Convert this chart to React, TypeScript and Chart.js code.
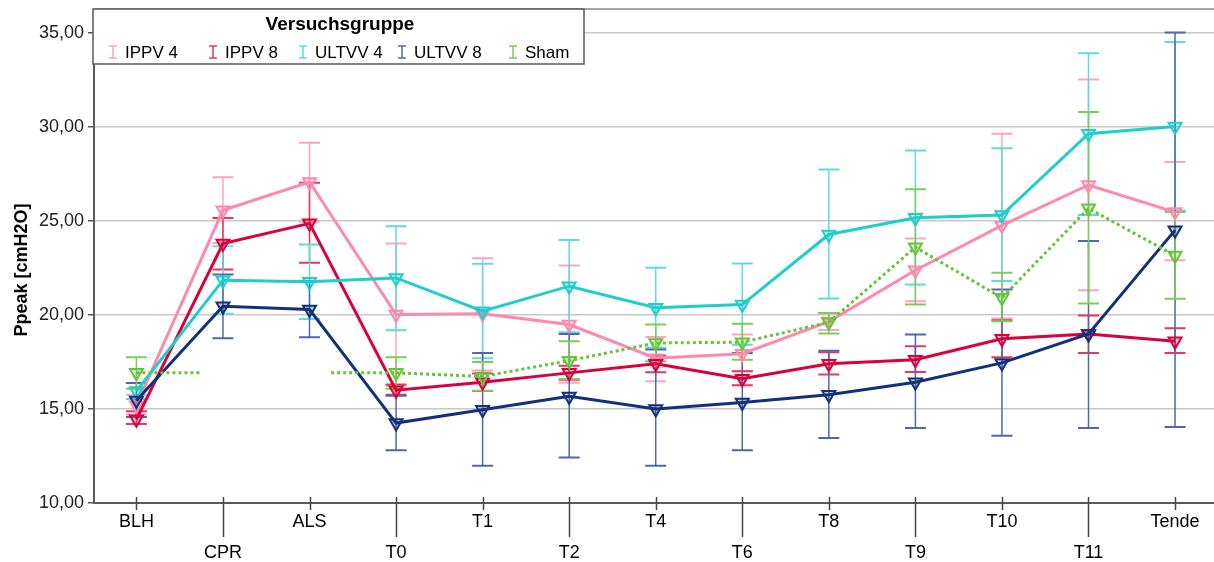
import React, { useEffect, useRef } from "react";
import { Chart, registerables } from "chart.js";

Chart.register(...registerables);

// Time points along the horizontal axis
const categories = ["BLH", "CPR", "ALS", "T0", "T1", "T2", "T4", "T6", "T8", "T9", "T10", "T11", "Tende"];
const yTickValues = [10, 15, 20, 25, 30, 35];

// Group means with lower / upper error-bar limits (Ppeak, cmH2O)
const ippv4Mean = [15.2, 25.57, 27.07, 20.02, 20.06, 19.49, 17.7, 17.94, 19.65, 22.38, 24.76, 26.91, 25.47];
const ippv4Low = [14.7, 23.82, 24.96, 16.24, 17.05, 16.4, 16.47, 17.0, 19.2, 20.73, 19.81, 21.32, 22.91];
const ippv4High = [15.75, 27.32, 29.16, 23.8, 23.02, 22.63, 18.83, 18.96, 20.1, 24.07, 29.64, 32.52, 28.13];

const ippv8Mean = [14.45, 23.8, 24.87, 16.0, 16.42, 16.92, 17.41, 16.61, 17.4, 17.62, 18.73, 18.99, 18.6];
const ippv8Low = [14.2, 22.42, 22.77, 15.75, 15.96, 16.55, 16.95, 16.26, 16.83, 16.97, 17.75, 17.98, 17.98];
const ippv8High = [14.88, 25.15, 27.03, 16.3, 16.88, 17.3, 17.84, 17.0, 18.01, 18.33, 19.72, 19.97, 19.29];

const ultvv4Mean = [15.95, 21.85, 21.76, 21.97, 20.2, 21.53, 20.38, 20.55, 24.28, 25.17, 25.31, 29.64, 30.02];
const ultvv4Low = [15.53, 20.06, 19.79, 19.19, 17.7, 19.08, 18.25, 18.42, 20.87, 21.62, 21.8, 25.31, 25.56];
const ultvv4High = [16.38, 23.66, 23.75, 24.72, 22.72, 23.98, 22.51, 22.74, 27.74, 28.75, 28.86, 33.92, 34.52];

const ultvv8Mean = [15.45, 20.46, 20.29, 14.25, 14.96, 15.67, 15.0, 15.35, 15.76, 16.42, 17.45, 18.99, 24.51];
const ultvv8Low = [14.57, 18.76, 18.81, 12.8, 11.98, 12.42, 11.98, 12.8, 13.46, 13.99, 13.58, 13.99, 14.04];
const ultvv8High = [16.38, 22.15, 21.8, 15.71, 17.98, 18.99, 18.16, 17.98, 18.1, 18.96, 21.35, 23.93, 35.02];

const shamMean = [16.92, null, null, 16.92, 16.73, 17.57, 18.51, 18.55, 19.61, 23.6, 20.91, 25.67, 23.16];
const shamLow = [16.08, null, null, 16.08, 15.97, 16.6, 17.54, 17.62, 19.01, 20.55, 19.66, 20.61, 20.86];
const shamHigh = [17.75, null, null, 17.75, 17.5, 18.6, 19.49, 19.53, 20.11, 26.68, 22.24, 30.79, 25.47];

// Short dotted stubs of the Sham line next to its missing values
const shamStubX = [0, 0.74, 1.5, 2.25, 3];
const shamStubY = [16.92, 16.92, null, 16.92, 16.92];

const seriesNames = ["IPPV 4", "IPPV 8", "ULTVV 4", "ULTVV 8", "Sham"];
const lineColors = ["#FF88AE", "#D9003C", "#1FCDCD", "#15307A", "#66C43A"];
const barColors = ["#FFA3C2", "#E23A62", "#5CDCDC", "#5068A8", "#7ACD58"];
const fillColors = ["rgba(255,136,174,0.25)", "rgba(217,0,60,0.25)", "rgba(31,205,205,0.25)", "rgba(21,48,122,0.25)", "rgba(102,196,58,0.25)"];

const means = [ippv4Mean, ippv8Mean, ultvv4Mean, ultvv8Mean, shamMean];
const lows = [ippv4Low, ippv8Low, ultvv4Low, ultvv8Low, shamLow];
const highs = [ippv4High, ippv8High, ultvv4High, ultvv8High, shamHigh];

const FONT = "'Liberation Sans', Arial, sans-serif";

const toPoints = (vals: (number | null)[]) => vals.map((v, i) => ({ x: i, y: v }));

// Error bars behind the lines
const errorBarPlugin = {
  id: "errorBars",
  beforeDatasetsDraw(chart: any) {
    const { ctx } = chart;
    const xs = chart.scales.x;
    const ys = chart.scales.y;
    ctx.save();
    means.forEach((_, s) => {
      ctx.strokeStyle = barColors[s];
      for (let i = 0; i < categories.length; i++) {
        const lo = lows[s][i];
        const hi = highs[s][i];
        if (lo == null || hi == null) continue;
        const x = xs.getPixelForValue(i);
        const yl = ys.getPixelForValue(lo);
        const yh = ys.getPixelForValue(hi);
        ctx.lineWidth = 1.5;
        ctx.beginPath();
        ctx.moveTo(x, yl);
        ctx.lineTo(x, yh);
        ctx.stroke();
        ctx.lineWidth = 2;
        ctx.beginPath();
        ctx.moveTo(x - 10.5, yl);
        ctx.lineTo(x + 10.5, yl);
        ctx.moveTo(x - 10.5, yh);
        ctx.lineTo(x + 10.5, yh);
        ctx.stroke();
      }
    });
    ctx.restore();
  },
};

// Plot frame, category tick marks, axis title and the legend box
const framePlugin = {
  id: "frame",
  beforeDatasetsDraw(chart: any) {
    const { ctx, chartArea } = chart;
    const xs = chart.scales.x;
    ctx.save();
    ctx.strokeStyle = "#8A8A8A";
    ctx.lineWidth = 1.5;
    ctx.beginPath();
    ctx.moveTo(chartArea.left, chartArea.top);
    ctx.lineTo(chartArea.right, chartArea.top);
    ctx.stroke();
    ctx.strokeStyle = "#5A5A5A";
    ctx.lineWidth = 2;
    ctx.beginPath();
    ctx.moveTo(chartArea.left, chartArea.top);
    ctx.lineTo(chartArea.left, chartArea.bottom);
    ctx.lineTo(chartArea.right, chartArea.bottom);
    ctx.stroke();
    ctx.lineWidth = 1.5;
    ctx.strokeStyle = "#444";
    categories.forEach((_, i) => {
      const x = Math.round(xs.getPixelForValue(i)) + 0.5;
      ctx.beginPath();
      ctx.moveTo(x, chartArea.bottom - 6);
      ctx.lineTo(x, chartArea.bottom + (i % 2 === 0 ? 7 : 34));
      ctx.stroke();
    });
    ctx.restore();
  },
  afterDraw(chart: any) {
    const { ctx, chartArea } = chart;
    ctx.save();
    // y axis title
    ctx.translate(22, 270);
    ctx.rotate(-Math.PI / 2);
    ctx.font = `bold 18px ${FONT}`;
    ctx.fillStyle = "#000";
    ctx.textAlign = "center";
    ctx.textBaseline = "middle";
    ctx.fillText("Ppeak [cmH2O]", 0, 0);
    ctx.restore();

    // legend box
    ctx.save();
    const bx = chartArea.left - 1;
    const by = chartArea.top;
    const bw = 491;
    const bh = 55;
    ctx.fillStyle = "#fff";
    ctx.fillRect(bx, by, bw, bh);
    ctx.strokeStyle = "#5A5A5A";
    ctx.lineWidth = 1.5;
    ctx.strokeRect(bx, by, bw, bh);
    ctx.fillStyle = "#000";
    ctx.font = `bold 19px ${FONT}`;
    ctx.textAlign = "center";
    ctx.textBaseline = "middle";
    ctx.fillText("Versuchsgruppe", bx + 247, by + 16);
    const itemX = [113, 213, 303, 402, 513];
    ctx.font = `17px ${FONT}`;
    ctx.textAlign = "left";
    seriesNames.forEach((name, s) => {
      const gx = itemX[s];
      const gy = by + 43;
      ctx.strokeStyle = barColors[s];
      ctx.lineWidth = 1.5;
      ctx.beginPath();
      ctx.moveTo(gx, gy - 6);
      ctx.lineTo(gx, gy + 6);
      ctx.moveTo(gx - 4, gy - 6);
      ctx.lineTo(gx + 4, gy - 6);
      ctx.moveTo(gx - 4, gy + 6);
      ctx.lineTo(gx + 4, gy + 6);
      ctx.stroke();
      ctx.fillStyle = "#000";
      ctx.fillText(name, gx + 12, gy + 1);
    });
    ctx.restore();
  },
};

export default function App() {
  const ref = useRef<HTMLCanvasElement>(null);

  useEffect(() => {
    if (!ref.current) return;
    const datasets: any[] = means.map((vals, s) => ({
      label: seriesNames[s],
      data: toPoints(vals),
      borderColor: lineColors[s],
      backgroundColor: fillColors[s],
      borderWidth: 3,
      borderDash: s === 4 ? [3, 3] : [],
      pointStyle: "triangle",
      rotation: 180,
      pointRadius: 7.5,
      pointBorderWidth: 2,
      pointBorderColor: lineColors[s],
      pointBackgroundColor: fillColors[s],
      spanGaps: false,
      tension: 0,
      order: 10 - s,
    }));
    datasets.push({
      label: "Sham stub",
      data: shamStubX.map((x, i) => ({ x, y: shamStubY[i] })),
      borderColor: lineColors[4],
      borderWidth: 3,
      borderDash: [3, 3],
      pointRadius: 0,
      spanGaps: false,
      order: 1,
    });

    const chart = new Chart(ref.current, {
      type: "line",
      data: { datasets },
      plugins: [errorBarPlugin, framePlugin],
      options: {
        animation: false,
        responsive: false,
        devicePixelRatio: 1,
        layout: { autoPadding: false, padding: { top: 9, right: 0, left: 0, bottom: 0 } },
        plugins: { legend: { display: false }, tooltip: { enabled: false } },
        scales: {
          x: {
            type: "linear",
            min: -0.49,
            max: 12.45,
            afterBuildTicks: (s: any) => {
              s.ticks = categories.map((_, i) => ({ value: i }));
            },
            afterFit: (s: any) => {
              s.height = 59;
              s.paddingLeft = 0;
              s.paddingRight = 0;
            },
            grid: { display: false, drawTicks: false },
            border: { display: false },
            ticks: {
              autoSkip: false,
              maxRotation: 0,
              padding: 4,
              color: "#000",
              font: { family: FONT, size: 18, lineHeight: 1.72 },
              callback: (v: any) => {
                const i = Math.round(Number(v));
                return i % 2 === 0 ? [categories[i]] : ["", categories[i]];
              },
            },
          },
          y: {
            min: 10,
            max: 36.27,
            afterBuildTicks: (s: any) => {
              s.ticks = yTickValues.map((v) => ({ value: v }));
            },
            afterFit: (s: any) => {
              s.width = 94;
              s.paddingTop = 0;
              s.paddingBottom = 0;
            },
            grid: { color: "#C8C8C8", lineWidth: 1.5, tickLength: 6, tickColor: "#555", tickWidth: 1.5 },
            border: { display: false },
            ticks: {
              padding: 4,
              color: "#222",
              font: { family: FONT, size: 18 },
              callback: (v: any) => Number(v).toFixed(2).replace(".", ","),
            },
          },
        },
      },
    } as any);
    return () => chart.destroy();
  }, []);

  return (
    <div style={{ position: "fixed", left: 0, top: 0, width: 1214, height: 562, background: "#fff" }}>
      <canvas ref={ref} width={1214} height={562} style={{ display: "block" }} />
    </div>
  );
}
